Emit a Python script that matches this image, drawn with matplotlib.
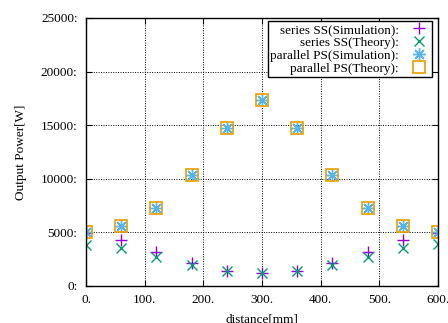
import matplotlib
matplotlib.use("Agg")
import matplotlib.pyplot as plt

distance = [0, 60, 120, 180, 240, 300, 360, 420, 480, 540, 600]
ss_sim = [4900, 4250, 3150, 2100, 1420, 1200, 1420, 2100, 3150, 4250, 4900]
ss_theory = [3850, 3570, 2730, 2000, 1380, 1180, 1380, 2000, 2730, 3570, 3900]
ps_sim = [5050, 5620, 7300, 10350, 14700, 17350, 14700, 10350, 7300, 5620, 5050]
ps_theory = [5050, 5620, 7300, 10350, 14700, 17350, 14700, 10350, 7300, 5620, 5050]

xticks = [0, 100, 200, 300, 400, 500, 600]
yticks = [0, 5000, 10000, 15000, 20000, 25000]

plt.rcParams["font.family"] = ["Liberation Serif", "DejaVu Serif"]
plt.rcParams["font.size"] = 9.5

fig = plt.figure(figsize=(4.48, 3.23), dpi=100)
ax = fig.add_axes([86 / 448, 1 - 286 / 323, 352 / 448, 268 / 323])

ax.plot(distance, ss_sim, ls="none", marker="+", ms=9, mew=1.0, color="#9400d3",
        label="series SS(Simulation):")
ax.plot(distance, ss_theory, ls="none", marker="x", ms=7.5, mew=1.0, color="#009e73",
        label="series SS(Theory):")
ax.plot(distance, ps_sim, ls="none", marker=(8, 2, 0), ms=9, mew=1.0, color="#56b4e9",
        label="parallel PS(Simulation):")
ax.plot(distance, ps_theory, ls="none", marker="s", ms=8.5, mew=1.2, mfc="none",
        color="#e69f00", label="parallel PS(Theory):")

ax.set_xlim(0, 600)
ax.set_ylim(0, 25000)
ax.set_xticks(xticks)
ax.set_xticklabels([f"{t}." for t in xticks])
ax.set_yticks(yticks)
ax.set_yticklabels([f"{t}:" for t in yticks])
ax.tick_params(direction="in", length=4, width=0.8, top=True, right=True, pad=6)
ax.grid(True, color="black", ls=(0, (1, 1.5)), lw=0.7)
for s in ax.spines.values():
    s.set_linewidth(1.0)

ax.set_xlabel("distance[mm]", labelpad=5)
ax.set_ylabel("Output Power[W]", labelpad=10)

leg = ax.legend(loc="upper right", bbox_to_anchor=(432 / 448, 1 - 21 / 323),
                bbox_transform=fig.transFigure, markerfirst=False, fancybox=False,
                framealpha=1, edgecolor="black", borderpad=0.2, labelspacing=0.05,
                handletextpad=0.8, handlelength=1.5, borderaxespad=0)
leg.get_frame().set_linewidth(1.0)

fig.savefig("out.png", dpi=100)
